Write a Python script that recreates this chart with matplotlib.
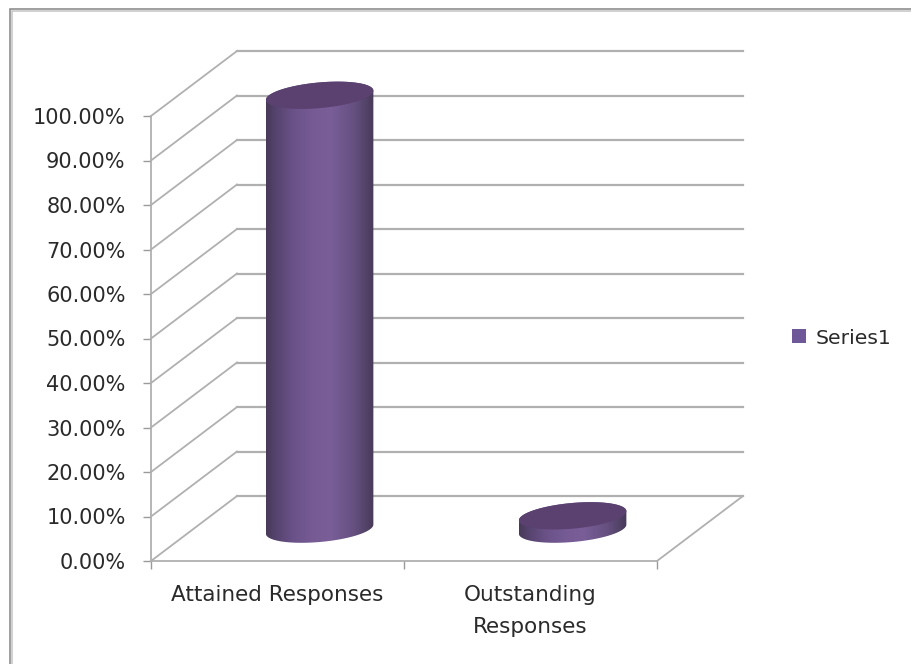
import numpy as np
import matplotlib
matplotlib.use("Agg")
import matplotlib.pyplot as plt
from matplotlib.colors import LinearSegmentedColormap
from matplotlib.patches import Patch, PathPatch, Rectangle
from matplotlib.path import Path
from matplotlib.transforms import Affine2D

categories = ["Attained Responses", "Outstanding\nResponses"]
values = [97.5, 3]
y_ticks = [0, 10, 20, 30, 40, 50, 60, 70, 80, 90, 100]
y_labels = ["0.00%", "10.00%", "20.00%", "30.00%", "40.00%", "50.00%",
            "60.00%", "70.00%", "80.00%", "90.00%", "100.00%"]
series_name = "Series1"

W, H = 912, 664
GRID = "#b0b0b0"
TEXT = "#2a2a2a"
fig = plt.figure(figsize=(W / 100, H / 100), dpi=100, facecolor="white")
L, R, B, T = 151, 657, 561, 116
ax = fig.add_axes([L / W, 1 - B / H, (R - L) / W, (B - T) / H])
ax.set_xlim(0, 2)
ax.set_ylim(0, 100)
ax.patch.set_visible(False)

DX = 86 / ((R - L) / 2)
DY = 65 / ((B - T) / 100)
BASE_DEPTH = 0.49


def depth(d):
    """Data transform sliding a front-plane point d of the way to the back wall."""
    return Affine2D().translate(d * DX, d * DY) + ax.transData


# Chart-area frame: darker outer line with a lighter inner line
for inset, col, lw in ((10.5, "#858585", 1.1), (12.0, "#c4c4c4", 1.1)):
    fig.add_artist(Rectangle((inset / W, -0.05), 1.1, 1.05 - (inset - 1.5) / H,
                             transform=fig.transFigure, fill=False,
                             edgecolor=col, lw=lw))

# Axes: real ticks and spines
for s in ("top", "right"):
    ax.spines[s].set_visible(False)
for s in ("left", "bottom"):
    ax.spines[s].set_color(GRID)
    ax.spines[s].set_linewidth(1.3)
ax.set_yticks(y_ticks, y_labels, fontsize=15, color=TEXT)
ax.set_xticks([0, 1, 2])
ax.set_xticklabels([])
ax.tick_params(axis="both", color="#9a9a9a", width=1.0, length=5.8)
ax.tick_params(axis="y", pad=12.5)
for i, c in enumerate(categories):
    ax.text(i + 0.5, -5.5, c, ha="center", va="top", fontsize=15.5, color=TEXT,
            linespacing=1.72)

# Walls and floor
for v in y_ticks:
    ax.plot([0, DX], [v, v + DY], color=GRID, lw=1.3, clip_on=False, zorder=1)
    ax.plot([0, 2], [v, v], color=GRID, lw=1.6, clip_on=False, zorder=1,
            transform=depth(1))
ax.plot([2, 2 + DX], [0, DY], color=GRID, lw=1.3, clip_on=False, zorder=1)

# Cylinders
shade = LinearSegmentedColormap.from_list(
    "cyl", [(0, "#483a58"), (0.08, "#54426c"), (0.25, "#6a5288"), (0.42, "#755a94"),
            (0.6, "#795e98"), (0.82, "#655080"), (0.95, "#4f4064"), (1, "#483a58")])
TOP = "#5a4170"
HALF_W, HALF_D = 0.2, 0.21
theta = np.linspace(0, 2 * np.pi, 361)[:-1]
N = theta.size


def ring(cx, level):
    return (cx + HALF_W * np.cos(theta) + BASE_DEPTH * DX + HALF_D * DX * np.sin(theta),
            level + BASE_DEPTH * DY + HALF_D * DY * np.sin(theta))


for i, v in enumerate(values):
    cx = i + 0.5
    bx, by = ring(cx, 0)
    tx, ty = ring(cx, v)
    il, ir = tx.argmin(), tx.argmax()
    # Lower rim of the base from left extreme to right extreme, then upper rim of the top back
    low = (il + np.arange((ir - il) % N + 1)) % N
    if by[low].mean() > by.mean():
        low = (il - np.arange((il - ir) % N + 1)) % N
    up = (ir + np.arange((il - ir) % N + 1)) % N
    if ty[up].mean() < ty.mean():
        up = (ir - np.arange((ir - il) % N + 1)) % N
    body = np.column_stack([np.concatenate([bx[low], tx[up]]),
                            np.concatenate([by[low], ty[up]])])
    grad = np.linspace(0, 1, 256).reshape(1, -1)
    im = ax.imshow(grad, cmap=shade, aspect="auto", zorder=3,
                   extent=(bx.min(), bx.max(), by.min(), ty.max()))
    patch = PathPatch(Path(np.vstack([body, body[0]]), closed=True),
                      transform=ax.transData, facecolor="none", edgecolor="none")
    ax.add_patch(patch)
    im.set_clip_path(patch)
    im.set_clip_box(fig.bbox)
    ax.fill(tx, ty, color=TOP, lw=0, zorder=4, clip_on=False)

ax.set_xlim(0, 2)
ax.set_ylim(0, 100)

# Legend
fig.legend(handles=[Patch(facecolor="#6f5898", edgecolor="none", label=series_name)],
           loc="center left", bbox_to_anchor=(786 / W, 1 - 338 / H), frameon=False,
           fontsize=14.7, labelcolor=TEXT, handlelength=0.69, handleheight=0.69,
           handletextpad=0.45, borderpad=0.3, borderaxespad=0)

fig.savefig("out.png", dpi=100, facecolor="white")
